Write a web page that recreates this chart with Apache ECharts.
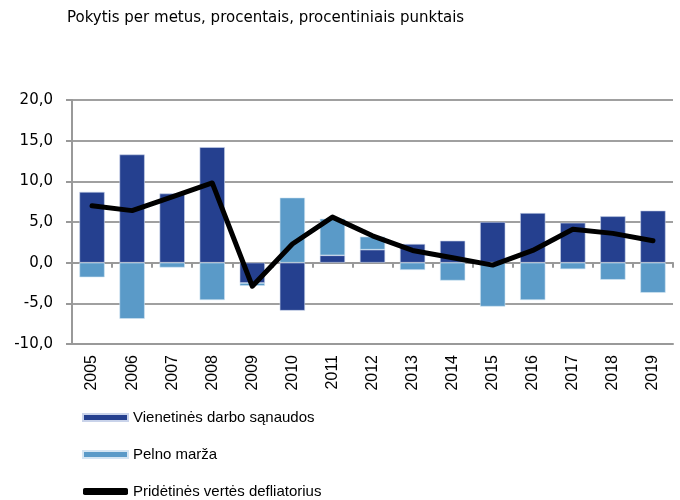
<!DOCTYPE html>
<html>
<head>
<meta charset="utf-8">
<script src="https://cdn.jsdelivr.net/npm/echarts@6/dist/echarts.min.js"></script>
<style>
html, body { margin: 0; padding: 0; background: #fff; }
#chart { width: 680px; height: 500px; }
</style>
</head>
<body>
<div id="chart"></div>
<script>
const years = ['2005', '2006', '2007', '2008', '2009', '2010', '2011', '2012',
  '2013', '2014', '2015', '2016', '2017', '2018', '2019'];
// unit labour costs
const laborCosts = [8.7, 13.3, 8.5, 14.2, -2.5, -5.9, 0.9, 1.6, 2.3, 2.7, 5.0, 6.1, 4.9, 5.7, 6.4];
// profit margin
const profitMargin = [-1.8, -6.9, -0.6, -4.6, -0.35, 8.0, 4.5, 1.6, -0.9, -2.2, -5.4, -4.6, -0.8, -2.1, -3.7];
// value added deflator
const deflator = [7.0, 6.4, 8.1, 9.8, -2.9, 2.3, 5.6, 3.3, 1.5, 0.6, -0.3, 1.5, 4.1, 3.6, 2.7];
const yTicks = { min: -10, max: 20, step: 5 };

const names = ['Vienetinės darbo sąnaudos', 'Pelno marža', 'Pridėtinės vertės defliatorius'];

const chart = echarts.init(document.getElementById('chart'));
chart.setOption({
  animation: false,
  title: {
    text: 'Pokytis per metus, procentais, procentiniais punktais',
    left: 67,
    top: 11,
    padding: 0,
    textStyle: { fontFamily: 'DejaVu Sans', fontSize: 15, fontWeight: 'normal', color: '#000' },
  },
  legend: {
    orient: 'vertical',
    left: 82,
    top: 410,
    padding: 0,
    height: 100,
    itemWidth: 45,
    itemHeight: 7,
    itemGap: 22,
    data: [
      { name: names[0], icon: 'rect' },
      { name: names[1], icon: 'rect' },
      { name: names[2], icon: 'roundRect', itemStyle: { color: '#000' } },
    ],
    textStyle: { fontFamily: 'Liberation Sans', fontSize: 15, color: '#000' },
  },
  grid: { left: 72, right: 7, top: 100, bottom: 156 },
  xAxis: [{
    type: 'category',
    data: years,
    position: 'bottom',
    axisLine: { onZero: false, lineStyle: { color: '#999', width: 2 } },
    axisTick: { show: false },
    axisLabel: {
      rotate: 90,
      margin: 11,
      fontFamily: 'Liberation Sans',
      fontSize: 16,
      color: '#000',
    },
  }, {
    type: 'category',
    data: years,
    position: 'bottom',
    axisLine: { onZero: true, onZeroAxisIndex: 0, lineStyle: { color: '#999', width: 2 } },
    axisTick: { show: true, length: 5, lineStyle: { color: '#999', width: 2 } },
    axisLabel: { show: false },
  }],
  yAxis: {
    type: 'value',
    min: yTicks.min,
    max: yTicks.max,
    interval: yTicks.step,
    axisLine: { show: true, lineStyle: { color: '#999', width: 2 } },
    axisTick: { show: true, length: 6, lineStyle: { color: '#999', width: 2 } },
    splitLine: { lineStyle: { color: '#a0a0a0', width: 2 } },
    axisLabel: {
      margin: 19,
      fontFamily: 'DejaVu Sans',
      fontSize: 15,
      color: '#000',
      formatter: (v) => v.toFixed(1).replace('.', ','),
    },
  },
  series: [{
    name: names[0],
    type: 'bar',
    stack: 'total',
    data: laborCosts,
    barWidth: '63%',
    itemStyle: { color: '#25408f', borderColor: '#c9d3ea', borderWidth: 0.6 },
  }, {
    name: names[1],
    type: 'bar',
    stack: 'total',
    data: profitMargin,
    barWidth: '63%',
    itemStyle: { color: '#5a9ac8', borderColor: '#d4e5f3', borderWidth: 0.6 },
  }, {
    name: names[2],
    type: 'line',
    data: deflator,
    symbol: 'none',
    z: 5,
    itemStyle: { color: '#000' },
    lineStyle: { color: '#000', width: 5, cap: 'round', join: 'round' },
  }],
});
</script>
</body>
</html>
